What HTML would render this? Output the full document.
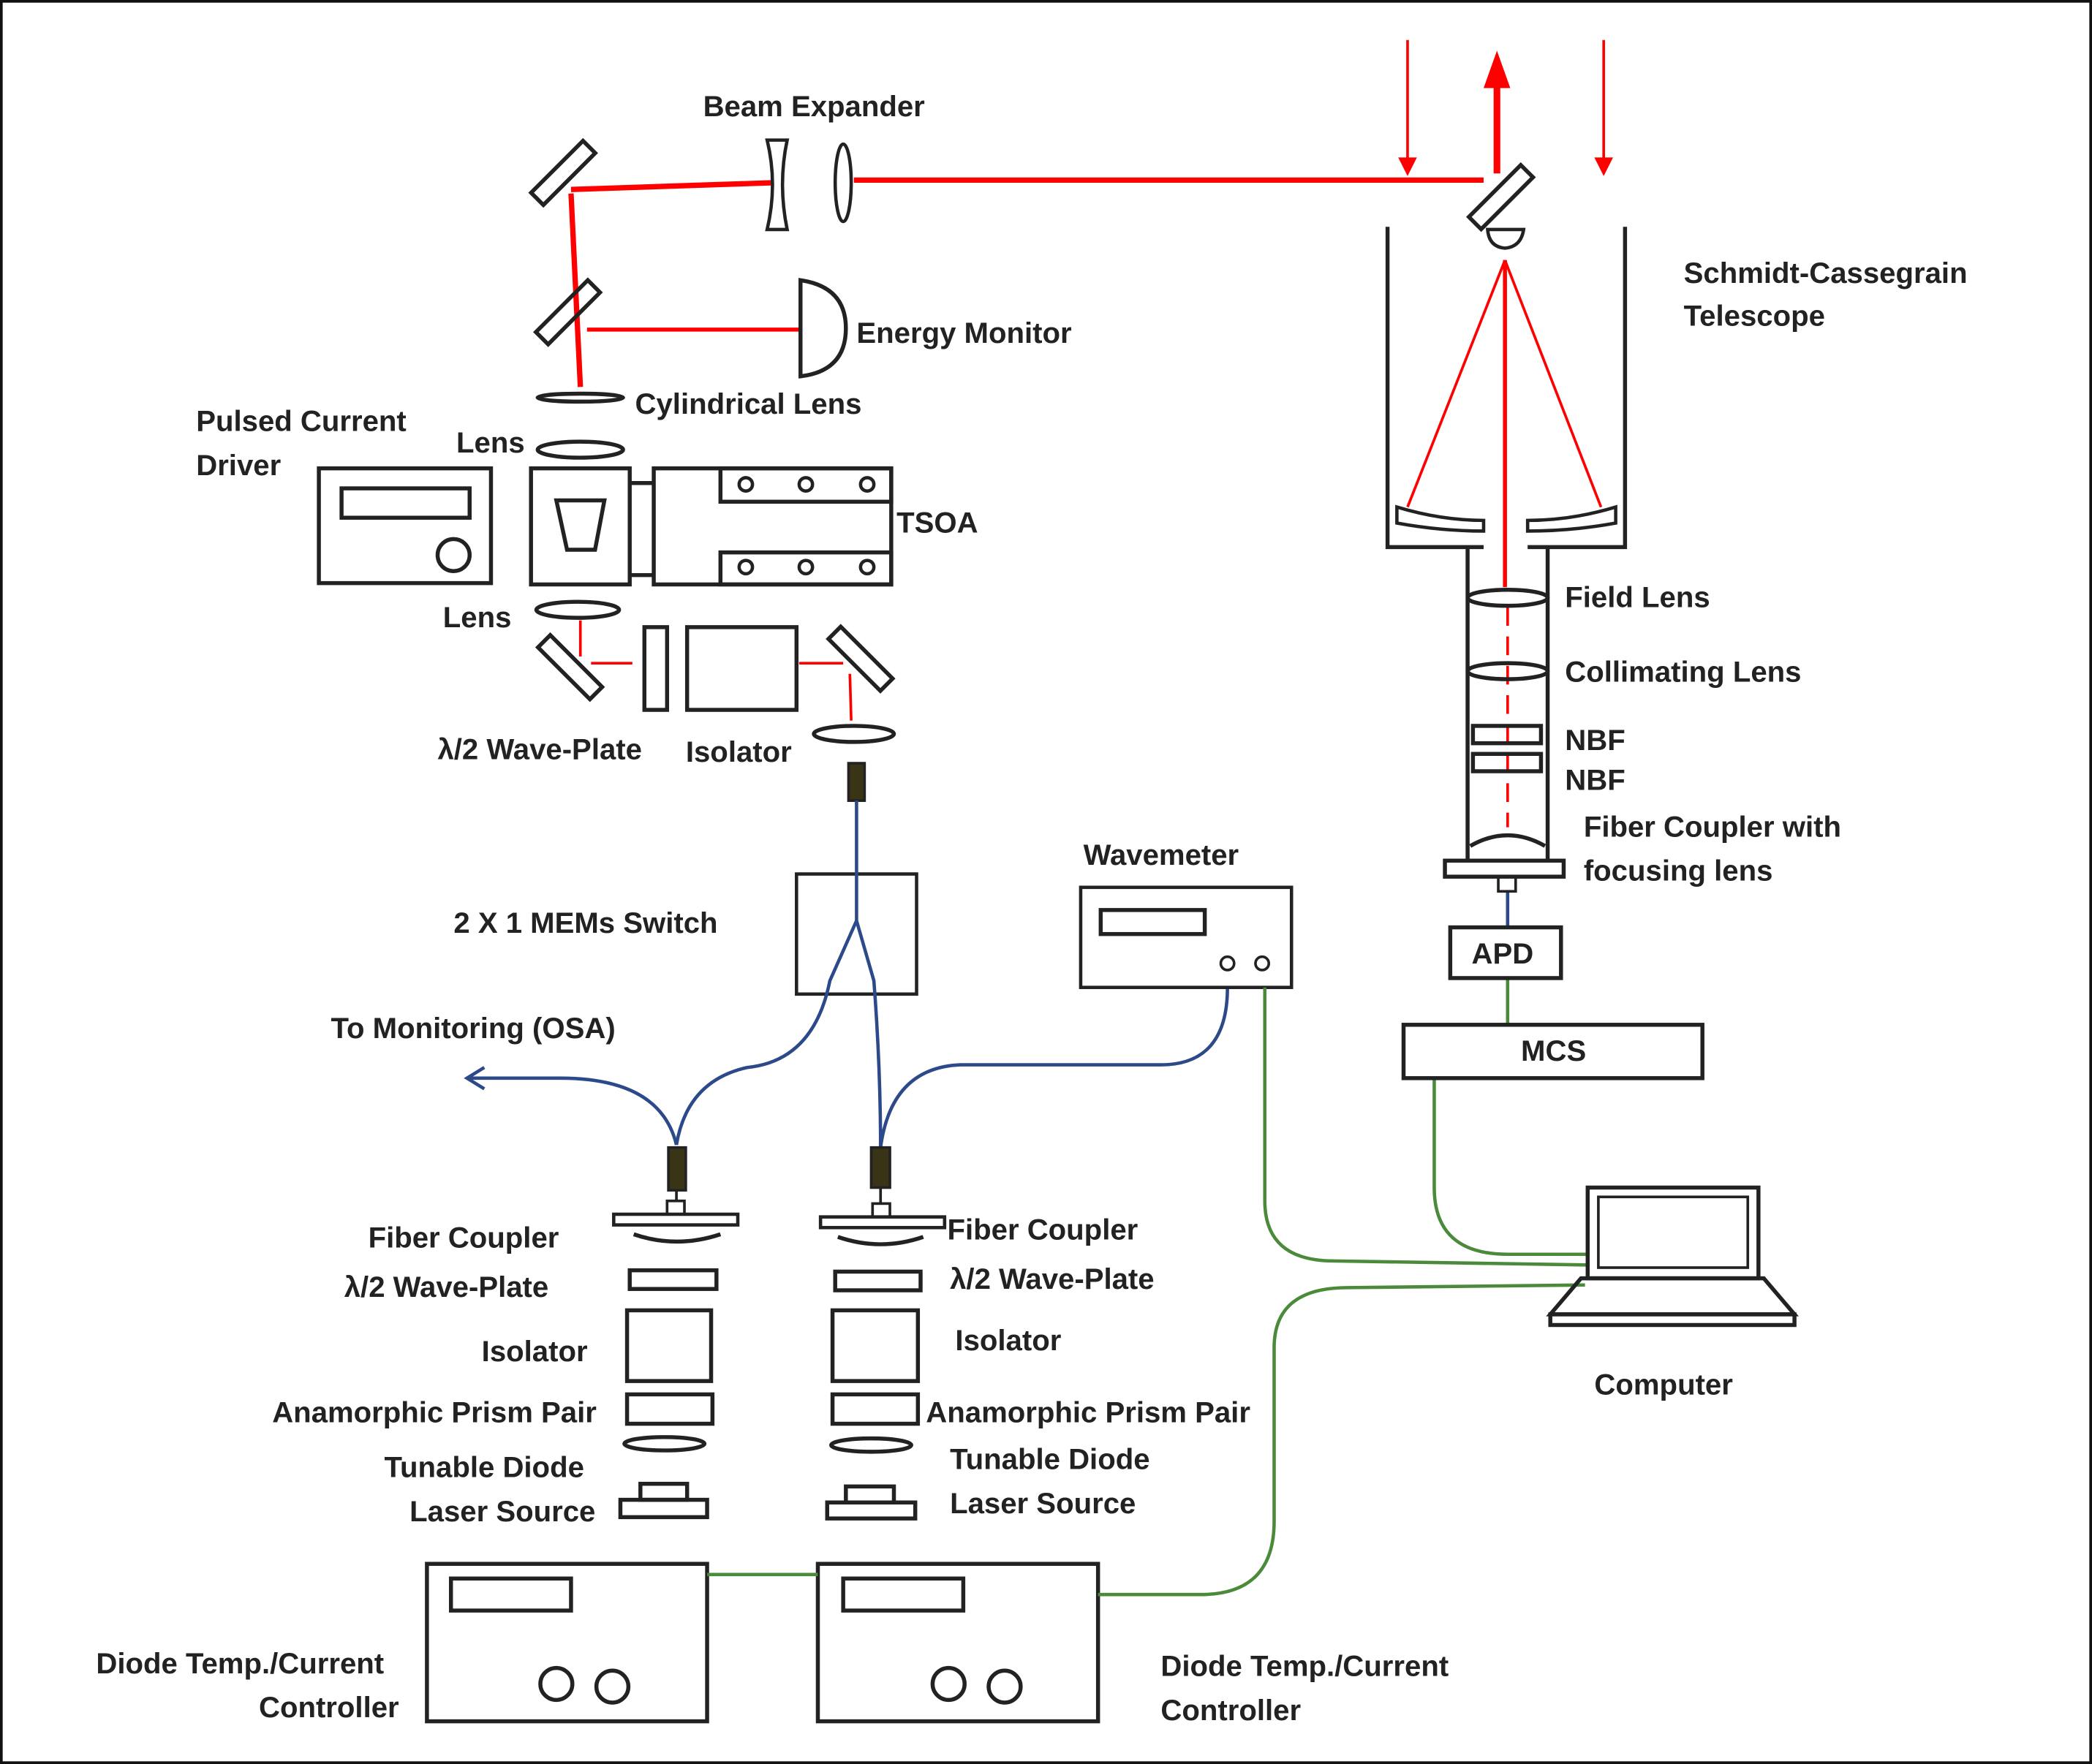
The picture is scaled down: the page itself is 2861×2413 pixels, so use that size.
<!DOCTYPE html>
<html><head><meta charset="utf-8"><style>
html,body{margin:0;padding:0;background:#fff;}
svg{display:block;}
text{font-family:"Liberation Sans",sans-serif;font-weight:bold;font-size:22px;fill:#222;}
</style></head><body>
<svg width="2861" height="2413" viewBox="0 0 1568 1322" preserveAspectRatio="none" xmlns="http://www.w3.org/2000/svg">
<rect x="1" y="1" width="1566" height="1320" fill="#fff" stroke="#111" stroke-width="2"/>
<g fill="none" stroke="#222" stroke-width="3">
<g stroke="#f00">
<line x1="428" y1="142" x2="578" y2="137" stroke-width="4"/>
<line x1="640" y1="135" x2="1112" y2="135" stroke-width="4"/>
<line x1="428" y1="145" x2="435" y2="290" stroke-width="4"/>
<line x1="440" y1="247" x2="600" y2="247" stroke-width="3"/>
<line x1="435" y1="465" x2="435" y2="492" stroke-width="2"/>
<line x1="443" y1="497" x2="474" y2="497" stroke-width="2"/>
<line x1="599" y1="497" x2="632" y2="497" stroke-width="2"/>
<line x1="637" y1="505" x2="638" y2="540" stroke-width="2"/>
<line x1="1055" y1="30" x2="1055" y2="125" stroke-width="2"/>
<line x1="1202" y1="30" x2="1202" y2="125" stroke-width="2"/>
<line x1="1122" y1="130" x2="1122" y2="55" stroke-width="5"/>
<line x1="1128" y1="195" x2="1055" y2="380" stroke-width="2"/>
<line x1="1128" y1="195" x2="1200" y2="380" stroke-width="2"/>
<line x1="1128" y1="195" x2="1128" y2="440" stroke-width="3"/>
<line x1="1130" y1="455" x2="1130" y2="620" stroke-width="2" stroke-dasharray="14,8"/>
</g>
<g fill="#f00" stroke="none">
<polygon points="1048,118 1062,118 1055,132"/>
<polygon points="1195,118 1209,118 1202,132"/>
<polygon points="1112,66 1132,66 1122,38"/>
</g>
<rect x="395" y="125" width="55" height="13" transform="rotate(-45 420 131)"/>
<rect x="398" y="228" width="55" height="13" transform="rotate(-45 425 234)"/>
<rect x="400" y="494" width="55" height="13" transform="rotate(45 428 500)"/>
<rect x="618" y="487" width="55" height="13" transform="rotate(45 645 493)"/>
<rect x="1097" y="141" width="55" height="13" transform="rotate(-45 1125 147)"/>
<path d="M575,105 L590,105 Q583,138 590,172 L575,172 Q583,138 575,105 Z" stroke-width="2.5"/>
<ellipse cx="632" cy="137" rx="6" ry="29" stroke-width="2.5"/>
<path d="M600,210 Q634,215 634,246 Q634,278 600,282 Z"/>
<ellipse cx="435" cy="298" rx="32" ry="3"/>
<ellipse cx="435" cy="337" rx="32" ry="6"/>
<ellipse cx="433" cy="457" rx="31" ry="6"/>
<ellipse cx="640" cy="550" rx="30" ry="6"/>
<rect x="398" y="351" width="74" height="87"/>
<polygon points="417,375 453,375 446,412 425,412"/>
<line x1="472" y1="362" x2="490" y2="362"/>
<line x1="472" y1="431" x2="490" y2="431"/>
<rect x="490" y="351" width="178" height="87"/>
<rect x="540" y="351" width="128" height="25"/>
<rect x="540" y="414" width="128" height="24"/>
<g stroke-width="2.5"><circle cx="559" cy="363" r="5"/><circle cx="604" cy="363" r="5"/><circle cx="650" cy="363" r="5"/><circle cx="559" cy="425" r="5"/><circle cx="604" cy="425" r="5"/><circle cx="650" cy="425" r="5"/></g>
<rect x="239" y="351" width="129" height="86"/>
<rect x="256" y="366" width="96" height="22"/>
<circle cx="340" cy="416" r="12"/>
<rect x="483" y="470" width="17" height="62"/>
<rect x="515" y="470" width="82" height="62"/>
<rect x="636" y="572" width="12" height="28" fill="#3a3416" stroke="#222" stroke-width="2"/>
<rect x="597" y="655" width="90" height="90" stroke-width="2.5"/>
<g stroke="#2c4a8a" stroke-width="2.5">
<path d="M642,600 L642,690 L622,735 Q610,795 560,800 Q515,810 507,858"/>
<path d="M642,690 L655,735 Q660,800 660,860"/>
<path d="M507,858 Q495,808 420,808 L350,808"/>
<path d="M920,740 Q920,798 870,798 L720,798 Q668,800 660,860"/>
<path d="M363,800 L350,808 L363,816"/>
<line x1="1130" y1="668" x2="1130" y2="695"/>
</g>
<rect x="501" y="860" width="13" height="32" fill="#3a3416" stroke-width="2"/>
<rect x="500" y="900" width="13" height="10" stroke-width="2"/>
<line x1="507" y1="892" x2="507" y2="900" stroke-width="2"/>
<rect x="460" y="910" width="93" height="8" stroke-width="2.5"/>
<path d="M475,925 Q507,936 540,925" />
<rect x="472" y="952" width="65" height="14"/>
<rect x="470" y="982" width="63" height="53"/>
<rect x="470" y="1045" width="64" height="22"/>
<ellipse cx="498" cy="1082" rx="30" ry="5"/>
<rect x="465" y="1124" width="65" height="13"/>
<rect x="480" y="1112" width="35" height="12"/>
<rect x="653" y="860" width="14" height="30" fill="#3a3416" stroke-width="2"/>
<rect x="654" y="902" width="13" height="10" stroke-width="2"/>
<line x1="660" y1="890" x2="660" y2="902" stroke-width="2"/>
<rect x="615" y="912" width="93" height="8" stroke-width="2.5"/>
<path d="M628,927 Q660,938 692,927"/>
<rect x="626" y="953" width="64" height="14"/>
<rect x="624" y="982" width="64" height="53"/>
<rect x="624" y="1045" width="64" height="22"/>
<ellipse cx="653" cy="1083" rx="30" ry="5"/>
<rect x="620" y="1126" width="66" height="12"/>
<rect x="634" y="1114" width="36" height="12"/>
<rect x="810" y="665" width="158" height="75" stroke-width="2.5"/>
<rect x="825" y="682" width="78" height="18"/>
<circle cx="920" cy="722" r="5" stroke-width="2"/><circle cx="946" cy="722" r="5" stroke-width="2"/>
<rect x="320" y="1172" width="210" height="118"/>
<rect x="338" y="1183" width="90" height="24"/>
<circle cx="417" cy="1262" r="12"/><circle cx="459" cy="1264" r="12"/>
<rect x="613" y="1172" width="210" height="118"/>
<rect x="632" y="1183" width="90" height="24"/>
<circle cx="711" cy="1262" r="12"/><circle cx="753" cy="1264" r="12"/>
<g stroke="#4a8a3a" stroke-width="2.5">
<line x1="530" y1="1180" x2="613" y2="1180"/>
<path d="M823,1195 L900,1195 Q955,1195 955,1140 L955,1010 Q955,965 1010,965 L1188,963"/>
<path d="M948,740 L948,900 Q948,945 1000,945 L1190,948"/>
<path d="M1075,808 L1075,890 Q1075,940 1130,940 L1190,940"/>
<line x1="1130" y1="733" x2="1130" y2="768"/>
</g>
<path d="M1040,170 L1040,410 L1112,410"/>
<path d="M1218,170 L1218,410 L1145,410"/>
<path d="M1047,380 Q1080,390 1112,390 L1112,398 Q1080,398 1047,392 Z" stroke-width="2.5"/>
<path d="M1211,380 Q1178,390 1145,390 L1145,398 Q1178,398 1211,392 Z" stroke-width="2.5"/>
<path d="M1115,172 L1142,172 Q1140,185 1128,186 Q1116,185 1115,172 Z" stroke-width="2.5"/>
<line x1="1100" y1="410" x2="1100" y2="645"/>
<line x1="1160" y1="410" x2="1160" y2="645"/>
<ellipse cx="1130" cy="448" rx="30" ry="6"/>
<ellipse cx="1130" cy="503" rx="30" ry="6"/>
<rect x="1104" y="544" width="51" height="13"/>
<rect x="1104" y="565" width="51" height="13"/>
<path d="M1102,634 Q1130,618 1158,634"/>
<rect x="1083" y="645" width="89" height="12"/>
<rect x="1123" y="657" width="13" height="11" stroke-width="2"/>
<rect x="1087" y="695" width="83" height="38"/>
<rect x="1052" y="768" width="224" height="40"/>
<rect x="1190" y="890" width="128" height="68"/>
<rect x="1198" y="897" width="112" height="53" stroke-width="2"/>
<polygon points="1185,958 1322,958 1345,985 1162,985"/>
<rect x="1162" y="985" width="183" height="8"/>
</g>
<text x="527" y="87">Beam Expander</text>
<text x="1262" y="212">Schmidt-Cassegrain</text>
<text x="1262" y="244">Telescope</text>
<text x="642" y="257">Energy Monitor</text>
<text x="476" y="310">Cylindrical Lens</text>
<text x="147" y="323">Pulsed Current</text>
<text x="147" y="356">Driver</text>
<text x="342" y="339">Lens</text>
<text x="672" y="399">TSOA</text>
<text x="332" y="470">Lens</text>
<text x="328" y="569">λ/2 Wave-Plate</text>
<text x="514" y="571">Isolator</text>
<text x="1173" y="455">Field Lens</text>
<text x="1173" y="511">Collimating Lens</text>
<text x="1173" y="562">NBF</text>
<text x="1173" y="592">NBF</text>
<text x="1187" y="627">Fiber Coupler with</text>
<text x="1187" y="660">focusing lens</text>
<text x="812" y="648">Wavemeter</text>
<text x="340" y="699">2 X 1 MEMs Switch</text>
<text x="1103" y="722">APD</text>
<text x="1140" y="795">MCS</text>
<text x="248" y="778">To Monitoring (OSA)</text>
<text x="276" y="935">Fiber Coupler</text>
<text x="710" y="929">Fiber Coupler</text>
<text x="258" y="972">λ/2 Wave-Plate</text>
<text x="712" y="966">λ/2 Wave-Plate</text>
<text x="361" y="1020">Isolator</text>
<text x="716" y="1012">Isolator</text>
<text x="204" y="1066">Anamorphic Prism Pair</text>
<text x="694" y="1066">Anamorphic Prism Pair</text>
<text x="288" y="1107">Tunable Diode</text>
<text x="712" y="1101">Tunable Diode</text>
<text x="307" y="1140">Laser Source</text>
<text x="712" y="1134">Laser Source</text>
<text x="1195" y="1045">Computer</text>
<text x="72" y="1254">Diode Temp./Current</text>
<text x="194" y="1287">Controller</text>
<text x="870" y="1256">Diode Temp./Current</text>
<text x="870" y="1289">Controller</text>
</svg>
</body></html>
